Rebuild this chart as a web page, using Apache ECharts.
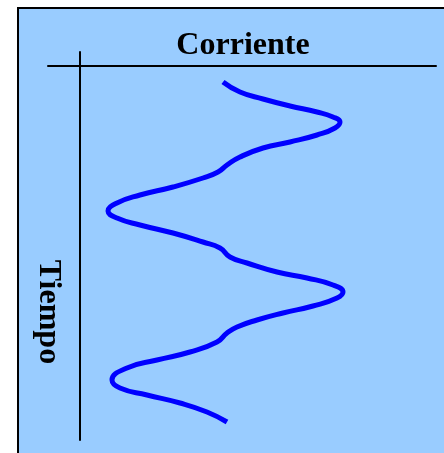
<!DOCTYPE html>
<html>
<head>
<meta charset="utf-8">
<script src="https://cdn.jsdelivr.net/npm/echarts@6/dist/echarts.min.js"></script>
<style>
  html, body { margin: 0; padding: 0; background: #fff; }
  #chart { width: 444px; height: 453px; }
</style>
</head>
<body>
<div id="chart"></div>
<script>
// corriente (horizontal) vs tiempo (vertical, downwards)
var corriente = [143, 160, 183, 210, 237, 253, 260, 255, 237, 210, 183, 160, 147, 138, 123, 93, 60, 37, 28, 37, 60, 93, 123, 140, 150, 167, 197, 227, 253, 263, 257, 233, 203, 177, 157, 147, 137, 110, 77, 47, 32, 40, 67, 100, 127, 147];
var tiempo = [16, 26, 33, 40, 46, 51, 56, 62, 69, 76, 82, 91, 99, 106, 112, 121, 129, 137, 145, 152, 159, 167, 176, 182, 191, 197, 206, 212, 219, 226, 232, 240, 247, 254, 261, 267, 276, 286, 294, 302, 314, 322, 329, 337, 346, 356];

var xTitle = 'Corriente';
var yTitle = 'Tiempo';

var dom = document.getElementById('chart');
var myChart = echarts.init(dom, null, { renderer: 'canvas' });

var points = corriente.map(function (c, i) { return [c, tiempo[i]]; });

var option = {
  animation: false,
  grid: { left: 48, top: 52, right: 8, bottom: 13 },
  xAxis: {
    type: 'value',
    min: -32,
    max: 356,
    axisLine: { onZero: true, lineStyle: { color: '#000', width: 2 } },
    axisTick: { show: false },
    axisLabel: { show: false },
    splitLine: { show: false }
  },
  yAxis: {
    type: 'value',
    inverse: true,
    min: -14,
    max: 374,
    axisLine: { onZero: true, lineStyle: { color: '#000', width: 2 } },
    axisTick: { show: false },
    axisLabel: { show: false },
    splitLine: { show: false }
  },
  graphic: [
    {
      type: 'rect',
      z: -10,
      silent: true,
      shape: { x: 18, y: 8, width: 440, height: 460 },
      style: { fill: '#99ccff', stroke: '#000', lineWidth: 2 }
    },
    {
      type: 'text',
      x: 243,
      y: 46,
      style: {
        text: xTitle,
        font: 'bold 32px "Liberation Serif", "Times New Roman", serif',
        fill: '#000',
        align: 'center',
        verticalAlign: 'middle'
      }
    },
    {
      type: 'text',
      x: 48,
      y: 312,
      rotation: -Math.PI / 2,
      style: {
        text: yTitle,
        font: 'bold 32px "Liberation Serif", "Times New Roman", serif',
        fill: '#000',
        align: 'center',
        verticalAlign: 'middle'
      }
    }
  ],
  series: [
    {
      type: 'line',
      data: points,
      smooth: 0.5,
      showSymbol: false,
      lineStyle: { color: '#0000ff', width: 5, cap: 'butt' }
    }
  ]
};

myChart.setOption(option);
window.addEventListener('resize', myChart.resize);
</script>
</body>
</html>
